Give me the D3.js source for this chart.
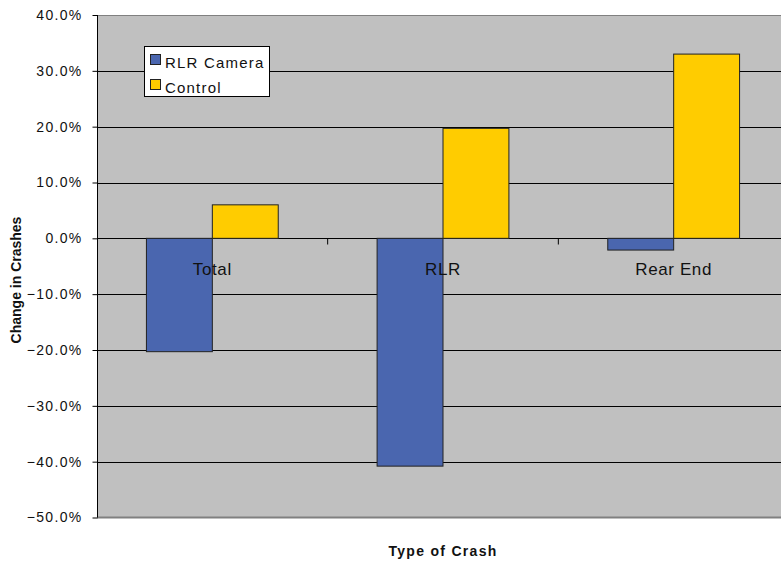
<!DOCTYPE html>
<html><head><meta charset="utf-8">
<script src="https://cdn.jsdelivr.net/npm/d3@7"></script>
<style>body{margin:0;background:#fff}svg{display:block}text{font-family:"Liberation Sans",Arial,sans-serif;fill:#111}</style>
</head><body><svg id="c" width="781" height="564"></svg>
<script>
const categories = ["Total", "RLR", "Rear End"];
const seriesNames = ["RLR Camera", "Control"];
const rlrCamera = [-0.203, -0.408, -0.021];
const control = [0.060, 0.197, 0.330];
const yTicks = [0.4, 0.3, 0.2, 0.1, 0, -0.1, -0.2, -0.3, -0.4, -0.5];
const colors = ["#4A66AF", "#FFCC00"];

const svg = d3.select("#c");
const L = 97, R = 789, T = 15, B = 517.5;
const x = d3.scaleBand().domain(categories).range([L, R]);
const y = d3.scaleLinear().domain([-0.5, 0.4]).range([B, T]);
const bw = x.bandwidth() / 3.5;

svg.append("rect").attr("x", L).attr("y", T).attr("width", R - L).attr("height", B - T).attr("fill", "#C0C0C0");

// gridlines
svg.append("g").selectAll("line").data(yTicks.filter(d => d < 0.4 && d > -0.5)).join("line")
  .attr("x1", L).attr("x2", R).attr("y1", d => Math.round(y(d)) + 0.5).attr("y2", d => Math.round(y(d)) + 0.5)
  .attr("stroke", "#000").attr("stroke-width", 1);
svg.append("line").attr("x1", L).attr("x2", R).attr("y1", T + 0.5).attr("y2", T + 0.5).attr("stroke", "#808080");
svg.append("line").attr("x1", L).attr("x2", R).attr("y1", B).attr("y2", B).attr("stroke", "#808080").attr("stroke-width", 2);

// bars
const series = [rlrCamera, control];
series.forEach((vals, si) => {
  svg.append("g").selectAll("rect").data(vals).join("rect")
    .attr("x", (d, i) => x(categories[i]) + bw * (0.75 + si))
    .attr("width", bw)
    .attr("y", d => y(Math.max(0, d)))
    .attr("height", d => Math.abs(y(d) - y(0)))
    .attr("fill", colors[si]).attr("stroke", "#222").attr("stroke-width", 1);
});

// y axis
const yAxis = d3.axisLeft(y).tickValues(yTicks).tickFormat(d3.format(".1%")).tickSize(5).tickPadding(10);
const gy = svg.append("g").attr("transform", `translate(${L + 0.5},0)`).call(yAxis);
gy.select(".domain").attr("stroke", "#000").attr("d", `M0,${T}V${B}`);
gy.selectAll(".tick line").attr("stroke", "#000");
gy.selectAll(".tick text").attr("font-size", 14).attr("letter-spacing", "1.3px")
  .attr("font-family", "Liberation Sans, Arial, sans-serif").attr("fill", "#333");

// x axis on zero line
const xAxis = d3.axisBottom(x).tickSize(6).tickFormat("");
const gx = svg.append("g").attr("transform", `translate(0,${Math.round(y(0)) + 0.5})`).call(xAxis);
gx.select(".domain").remove();
gx.selectAll(".tick line").attr("transform", (d) => `translate(${x.bandwidth() / 2},0)`).attr("stroke", "#000");
gx.selectAll(".tick").filter((d, i) => i === categories.length - 1).remove();

svg.append("g").selectAll("text").data(categories).join("text")
  .attr("x", d => x(d) + x.bandwidth() / 2).attr("y", 275)
  .attr("text-anchor", "middle").attr("font-size", 17).attr("letter-spacing", "0.6px").text(d => d);

// axis titles
svg.append("text").attr("x", 443).attr("y", 556).attr("text-anchor", "middle")
  .attr("font-size", 14).attr("font-weight", "bold").attr("letter-spacing", "1.3px").text("Type of Crash");
svg.append("text").attr("transform", "translate(21,280) rotate(-90)").attr("text-anchor", "middle")
  .attr("font-size", 14).attr("font-weight", "bold").text("Change in Crashes");

// legend
const lg = svg.append("g");
lg.append("rect").attr("x", 144.5).attr("y", 46.5).attr("width", 125).attr("height", 50).attr("fill", "#fff").attr("stroke", "#000");
seriesNames.forEach((n, i) => {
  lg.append("rect").attr("x", 150.5).attr("y", 54.5 + i * 25).attr("width", 10).attr("height", 10).attr("fill", colors[i]).attr("stroke", "#222");
  lg.append("text").attr("x", 165).attr("y", 68 + i * 25).attr("font-size", 15).attr("letter-spacing", "1.2px").text(n);
});
</script></body></html>
